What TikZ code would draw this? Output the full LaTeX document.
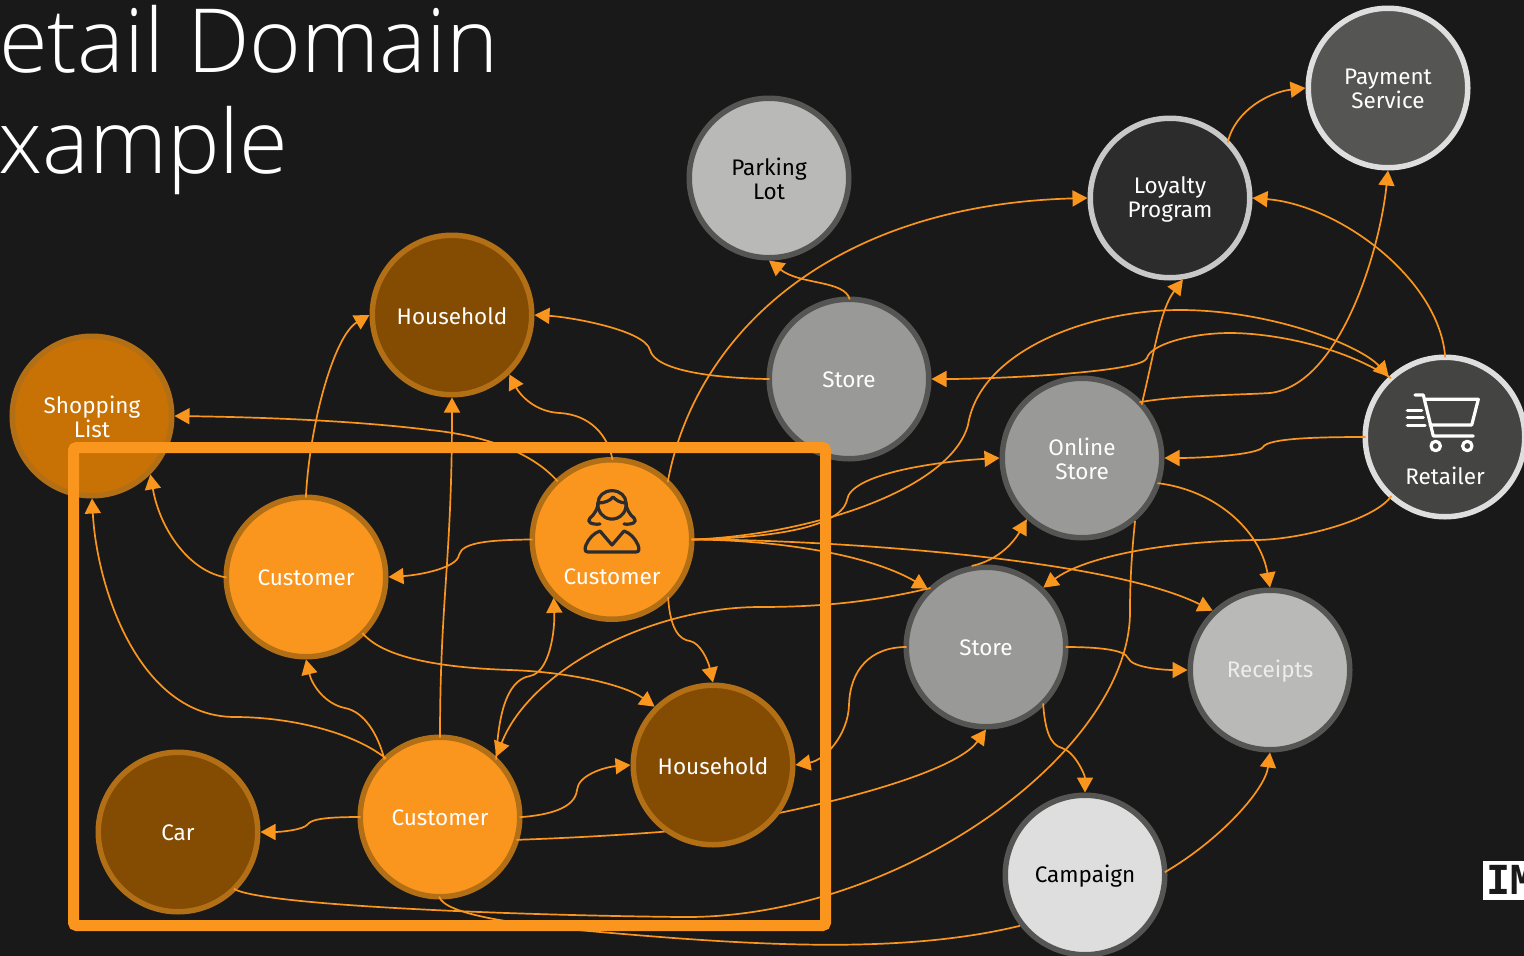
\documentclass[tikz,border=0pt]{standalone}
\usepackage{fontspec}
\setmainfont{Fira Sans}
\newfontfamily\titlefont{Open Sans Light}
\newfontfamily\logofont{DejaVu Sans Mono Bold}
\usetikzlibrary{arrows.meta}
\pgfdeclarelayer{edgelayer}
\pgfdeclarelayer{toplayer}
\pgfsetlayers{main,edgelayer,toplayer}
\definecolor{bg}{HTML}{191919}
\definecolor{org}{HTML}{FA961E}
\definecolor{orgb}{HTML}{B26F16}
\definecolor{brn}{HTML}{844C03}
\definecolor{ocr}{HTML}{C87105}
\definecolor{gl}{HTML}{B9B9B7}
\definecolor{gm}{HTML}{999997}
\definecolor{gb}{HTML}{555553}
\definecolor{gp}{HTML}{DEDEDE}
\definecolor{gd}{HTML}{2C2C2C}
\definecolor{gr}{HTML}{444443}
\newcommand{\disc}[5][white]{%
  \node[#2] (#3) at (#4) {};
  \node[txt,text=#1,yshift=-1pt] (#3t) at (#4) {#5};
}
\tikzset{
  x=1pt,y=-1pt,
  discbase/.style={circle,minimum size=159.5pt,line width=5.5pt,inner sep=0pt},
  orgdisc/.style={discbase,fill=org,draw=orgb},
  brndisc/.style={discbase,fill=brn,draw=orgb},
  ocrdisc/.style={discbase,fill=ocr,draw=orgb},
  gldisc/.style={discbase,fill=gl,draw=gb},
  gmdisc/.style={discbase,fill=gm,draw=gb},
  camdisc/.style={discbase,fill=gp,draw=gb},
  loydisc/.style={discbase,fill=gd,draw=gp!90!black},
  paydisc/.style={discbase,fill=gb,draw=gp},
  retdisc/.style={discbase,fill=gr,draw=gp},
  txt/.style={font=\fontsize{22.5}{24}\selectfont,text=white,inner sep=0pt,align=center},
  conn/.style={draw=org,line width=1.7pt,shorten <=-3pt,-{Triangle[length=15pt,width=16pt,fill=org]}},
  plain conn/.style={draw=org,line width=1.7pt,shorten <=-3pt},
  frame box/.style={draw=org,line width=11pt,rounded corners=3pt},
  ttl/.style={font=\titlefont\fontsize{88.5}{100}\selectfont,text=white,anchor=base west,inner sep=0pt},
  iconw/.style={draw=gd,line width=3.2pt,line cap=round,line join=round},
  iconc/.style={draw=white,line width=3.2pt,line cap=round,line join=round},
}
\begin{document}
\begin{tikzpicture}
\useasboundingbox (0,0) rectangle (1524,956);
\fill[bg] (0,0) rectangle (1524,956);
\node[ttl] (t1) at (-1,72) {etail Domain};
\node[ttl] (t2) at (-2,173) {xample};

\disc{ocrdisc}{sl}{92,416}{Shopping\\List}
\disc{brndisc}{h1}{452,315}{Household}
\disc[black]{gldisc}{pk}{769,178}{Parking\\Lot}
\disc{gmdisc}{st}{849,379}{Store}
\disc{loydisc}{lp}{1170,198}{Loyalty\\Program}
\disc{paydisc}{py}{1388,88}{Payment\\Service}
\disc{gmdisc}{ol}{1082,458}{Online\\Store}
\node[retdisc] (rt) at (1445,437) {};
\node[txt] (rtt) at (1445,476) {Retailer};
\disc{orgdisc}{c1}{306,577}{Customer}
\node[orgdisc] (c2) at (612,539.5) {};
\node[txt] (c2t) at (612,577) {Customer};
\disc{orgdisc}{c3}{440,817}{Customer}
\disc{brndisc}{car}{178,832}{Car}
\disc{gmdisc}{s2}{986,647}{Store}
\disc[white!93!black]{gldisc}{rc}{1270,670}{Receipts}
\disc[black]{camdisc}{cp}{1085,875}{Campaign}

% woman icon
\draw[iconw] (600,524) .. controls (592,525) and (586,522) .. (590,518) .. controls (595,514) and (598,508) .. (598,503)
  .. controls (598,496) and (604,490.7) .. (612,490.7) .. controls (620,490.7) and (626,496) .. (626,503)
  .. controls (626,508) and (629,514) .. (634,518) .. controls (638,522) and (632,525) .. (624,524);
\draw[iconw] (612,505) ++(-14,-2) arc[start angle=188,end angle=-8,radius=14.1] ;
\draw[iconw] (598,503) .. controls (604,503) and (610,501) .. (613,497) .. controls (616,500) and (620,503) .. (626,503);
\draw[iconw] (588,552) .. controls (584,552) and (585,548) .. (586,545) .. controls (589,538) and (594,533) .. (600,531)
  -- (612,545) -- (624,531) .. controls (630,533) and (635,538) .. (638,545) .. controls (639,548) and (640,552) .. (636,552) -- cycle;
% cart icon
\draw[iconc] (1415,395) -- (1423.3,395) -- (1433.3,436) -- (1473.3,436);
\draw[iconc] (1425,399.3) -- (1478.3,399.3) -- (1471.7,425) -- (1430,425);
\draw[iconc] (1407.3,410.7) -- (1421.7,410.7) (1407.3,417.3) -- (1423.3,417.3) (1407.3,425.3) -- (1425,425.3);
\draw[iconc] (1435.7,446) circle[radius=4.7] (1467.3,446) circle[radius=4.7];

\begin{pgfonlayer}{toplayer}
\disc{brndisc}{h2}{713,765}{Household}
\draw[frame box] (73.5,447.5) rectangle (825.5,925.5);
\fill[white] (1483,861) rectangle (1530,900);
\node[font=\logofont\fontsize{40}{40}\selectfont,text=bg,anchor=base west,inner sep=0pt] (im) at (1486,894) {IM};
\end{pgfonlayer}

\begin{pgfonlayer}{edgelayer}
\draw[conn] (c1.90) .. controls (310,420) and (335,335) .. (h1.180);
\draw[conn] (c3.90) .. controls (440,600) and (452,560) .. (h1.-90);
\draw[conn] (c2.90) .. controls (608,435) and (590,415) .. (560,413) .. controls (535,412) and (520,395) .. (h1.-46);
\draw[conn] (c2.133) .. controls (530,450) and (480,435) .. (430,430) .. controls (350,420) and (250,417) .. (sl.0);
\draw[conn] (c1.180) .. controls (190,572) and (160,530) .. (sl.-45);
\draw[conn] (c3.133) .. controls (350,730) and (285,717) .. (235,717) .. controls (140,717) and (97,590) .. (sl.-90);
\draw[conn] (c3.133) .. controls (378,735) and (365,712) .. (345,708) .. controls (325,704) and (312,685) .. (c1.-90);
\draw[conn] (c2.180) .. controls (490,540) and (462,542) .. (459,555) .. controls (457,568) and (420,575) .. (c1.0);
\draw[conn] (c1.-45) .. controls (385,660) and (450,668) .. (510,670) .. controls (570,672) and (625,685) .. (h2.135);
\draw[conn] (c3.47) .. controls (498,720) and (505,680) .. (530,676) .. controls (550,672) and (555,630) .. (c2.-135);
\draw[conn] (s2.135) .. controls (880,600) and (830,607) .. (760,607) .. controls (650,607) and (530,670) .. (c3.47);
\draw[conn] (c2.-47) .. controls (670,630) and (680,640) .. (690,641) .. controls (700,643) and (708,660) .. (h2.90);
\draw[conn] (c2.0) .. controls (780,540) and (870,555) .. (s2.135);
\draw[conn] (c2.0) .. controls (800,539) and (1100,555) .. (rc.134);
\draw[conn] (c2.0) .. controls (760,538) and (840,530) .. (847,500) .. controls (850,475) and (930,462) .. (ol.180);
\draw[conn] (c2.0) .. controls (810,535) and (950,490) .. (968,425) .. controls (980,350) and (1090,310) .. (1180,310) .. controls (1270,310) and (1360,345) .. (rt.133);
\draw[conn] (c2.47) .. controls (695,335) and (830,205) .. (lp.180);
\draw[conn] (st.90) .. controls (845,280) and (800,285) .. (pk.-90);
\draw[conn] (st.180) .. controls (710,378) and (655,370) .. (650,350) .. controls (645,330) and (570,317) .. (h1.0);
\draw[conn] (ol.43) .. controls (1155,350) and (1160,310) .. (lp.-81.5);
\draw[conn] (ol.43) .. controls (1180,395) and (1240,395) .. (1270,393) .. controls (1340,385) and (1380,250) .. (py.-90);
\draw[conn] (lp.45) .. controls (1235,110) and (1270,92) .. (py.180);
\draw[conn] (rt.90) .. controls (1440,280) and (1340,205) .. (lp.0);
\draw[conn] (rt.180) .. controls (1320,437) and (1268,438) .. (1263,447) .. controls (1258,455) and (1200,458) .. (ol.0);
\draw[conn] (rt.-132.5) .. controls (1375,520) and (1300,540) .. (1255,540) .. controls (1150,542) and (1080,560) .. (s2.46);
\draw[conn] (rt.133) .. controls (1340,345) and (1270,333) .. (1230,333) .. controls (1190,333) and (1150,345) .. (1147,358) .. controls (1143,372) and (1000,379) .. (st.0);
\draw[conn] (ol.-18.6) .. controls (1215,490) and (1260,530) .. (rc.90);
\draw[conn] (s2.98) .. controls (1000,560) and (1015,540) .. (ol.-132.5);
\draw[conn] (s2.180) .. controls (870,647) and (850,670) .. (849,705) .. controls (848,735) and (825,760) .. (h2.0);
\draw[conn] (s2.0) .. controls (1100,647) and (1125,650) .. (1128,658) .. controls (1132,668) and (1165,670) .. (rc.180);
\draw[conn] (s2.-46) .. controls (1045,730) and (1050,745) .. (1062,748) .. controls (1075,752) and (1085,775) .. (cp.90);
\draw[conn] (c3.-16) .. controls (570,838) and (620,835) .. (660,832) .. controls (760,822) and (950,780) .. (s2.-90);
\draw[conn] (cp.3) .. controls (1220,840) and (1265,790) .. (rc.-90);
\draw[conn] (c3.0) .. controls (550,815) and (575,808) .. (577,790) .. controls (578,775) and (605,767) .. (h2.180);
\draw[conn] (c3.180) .. controls (335,817) and (312,818) .. (308,824) .. controls (304,830) and (280,832) .. (car.0);
\draw[plain conn] (car.-45) .. controls (260,905) and (500,915) .. (680,917) .. controls (900,920) and (1132,750) .. (1130,610) .. controls (1130,580) and (1132,550) .. (ol.-50.5);
\draw[plain conn] (c3.-90) .. controls (445,915) and (520,925) .. (600,932) .. controls (750,945) and (900,955) .. (cp.-142);
\end{pgfonlayer}
\end{tikzpicture}
\end{document}
